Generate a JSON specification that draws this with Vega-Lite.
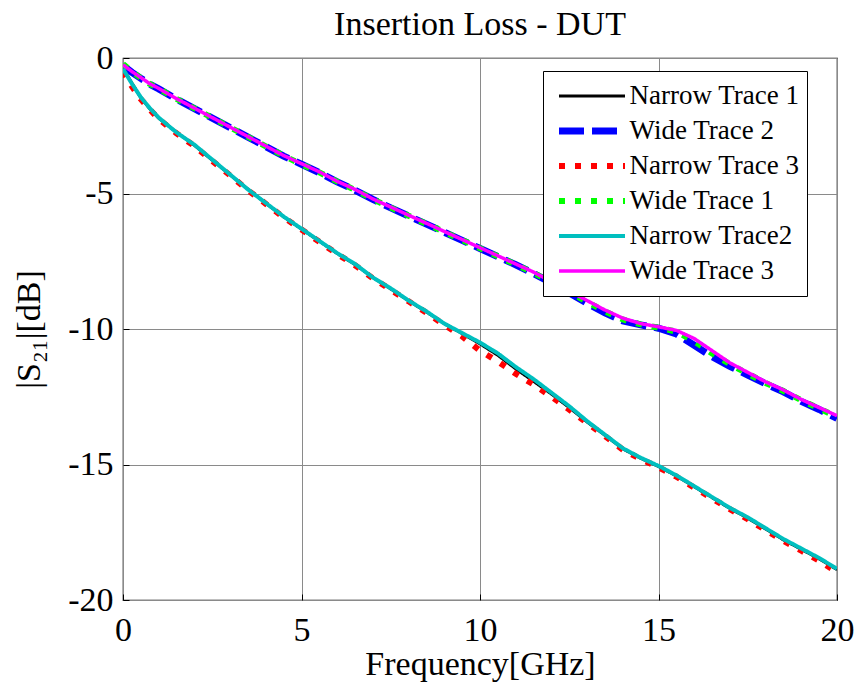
{
  "$schema": "https://vega.github.io/schema/vega-lite/v6.json",
  "width": 714,
  "height": 542,
  "autosize": {"type": "none"},
  "padding": {"left": 123, "top": 58, "right": 21, "bottom": 87},
  "title": {"text": "Insertion Loss - DUT", "fontSize": 34, "font": "Liberation Serif", "fontWeight": "normal", "color": "black", "offset": -1},
  "data": {"values": [
    {"s":"Narrow Trace 1","f":0,"v":-0.38},{"s":"Narrow Trace 1","f":0.25,"v":-0.93},{"s":"Narrow Trace 1","f":0.5,"v":-1.47},{"s":"Narrow Trace 1","f":0.75,"v":-1.87},{"s":"Narrow Trace 1","f":1,"v":-2.22},{"s":"Narrow Trace 1","f":1.5,"v":-2.74},{"s":"Narrow Trace 1","f":2,"v":-3.22},{"s":"Narrow Trace 1","f":2.5,"v":-3.77},{"s":"Narrow Trace 1","f":3,"v":-4.31},{"s":"Narrow Trace 1","f":3.5,"v":-4.84},{"s":"Narrow Trace 1","f":4,"v":-5.36},{"s":"Narrow Trace 1","f":4.5,"v":-5.86},{"s":"Narrow Trace 1","f":5,"v":-6.31},{"s":"Narrow Trace 1","f":5.5,"v":-6.76},{"s":"Narrow Trace 1","f":6,"v":-7.21},{"s":"Narrow Trace 1","f":6.5,"v":-7.62},{"s":"Narrow Trace 1","f":7,"v":-8.1},{"s":"Narrow Trace 1","f":7.5,"v":-8.52},{"s":"Narrow Trace 1","f":8,"v":-8.96},{"s":"Narrow Trace 1","f":8.5,"v":-9.37},{"s":"Narrow Trace 1","f":9,"v":-9.8},{"s":"Narrow Trace 1","f":9.5,"v":-10.17},{"s":"Narrow Trace 1","f":10,"v":-10.55},{"s":"Narrow Trace 1","f":10.5,"v":-10.97},{"s":"Narrow Trace 1","f":11,"v":-11.47},{"s":"Narrow Trace 1","f":11.5,"v":-11.93},{"s":"Narrow Trace 1","f":12,"v":-12.4},{"s":"Narrow Trace 1","f":12.5,"v":-12.9},{"s":"Narrow Trace 1","f":13,"v":-13.43},{"s":"Narrow Trace 1","f":13.5,"v":-13.92},{"s":"Narrow Trace 1","f":14,"v":-14.42},{"s":"Narrow Trace 1","f":14.5,"v":-14.77},{"s":"Narrow Trace 1","f":15,"v":-15.07},{"s":"Narrow Trace 1","f":15.5,"v":-15.42},{"s":"Narrow Trace 1","f":16,"v":-15.82},{"s":"Narrow Trace 1","f":16.5,"v":-16.22},{"s":"Narrow Trace 1","f":17,"v":-16.62},{"s":"Narrow Trace 1","f":17.5,"v":-16.98},{"s":"Narrow Trace 1","f":18,"v":-17.38},{"s":"Narrow Trace 1","f":18.5,"v":-17.78},{"s":"Narrow Trace 1","f":19,"v":-18.13},{"s":"Narrow Trace 1","f":19.5,"v":-18.48},{"s":"Narrow Trace 1","f":20,"v":-18.88},
    {"s":"Wide Trace 2","f":0,"v":-0.28},{"s":"Wide Trace 2","f":0.25,"v":-0.53},{"s":"Wide Trace 2","f":0.5,"v":-0.75},{"s":"Wide Trace 2","f":0.75,"v":-0.97},{"s":"Wide Trace 2","f":1,"v":-1.14},{"s":"Wide Trace 2","f":1.5,"v":-1.52},{"s":"Wide Trace 2","f":2,"v":-1.87},{"s":"Wide Trace 2","f":2.5,"v":-2.22},{"s":"Wide Trace 2","f":3,"v":-2.57},{"s":"Wide Trace 2","f":3.5,"v":-2.92},{"s":"Wide Trace 2","f":4,"v":-3.27},{"s":"Wide Trace 2","f":4.5,"v":-3.62},{"s":"Wide Trace 2","f":5,"v":-3.92},{"s":"Wide Trace 2","f":5.5,"v":-4.23},{"s":"Wide Trace 2","f":6,"v":-4.57},{"s":"Wide Trace 2","f":6.5,"v":-4.88},{"s":"Wide Trace 2","f":7,"v":-5.22},{"s":"Wide Trace 2","f":7.5,"v":-5.53},{"s":"Wide Trace 2","f":8,"v":-5.83},{"s":"Wide Trace 2","f":8.5,"v":-6.13},{"s":"Wide Trace 2","f":9,"v":-6.43},{"s":"Wide Trace 2","f":9.5,"v":-6.73},{"s":"Wide Trace 2","f":10,"v":-7.03},{"s":"Wide Trace 2","f":10.5,"v":-7.33},{"s":"Wide Trace 2","f":11,"v":-7.63},{"s":"Wide Trace 2","f":11.5,"v":-7.95},{"s":"Wide Trace 2","f":12,"v":-8.3},{"s":"Wide Trace 2","f":12.5,"v":-8.67},{"s":"Wide Trace 2","f":13,"v":-9.05},{"s":"Wide Trace 2","f":13.5,"v":-9.4},{"s":"Wide Trace 2","f":14,"v":-9.7},{"s":"Wide Trace 2","f":14.5,"v":-9.85},{"s":"Wide Trace 2","f":15,"v":-9.97},{"s":"Wide Trace 2","f":15.5,"v":-10.18},{"s":"Wide Trace 2","f":16,"v":-10.6},{"s":"Wide Trace 2","f":16.5,"v":-11.02},{"s":"Wide Trace 2","f":17,"v":-11.38},{"s":"Wide Trace 2","f":17.5,"v":-11.7},{"s":"Wide Trace 2","f":18,"v":-12.02},{"s":"Wide Trace 2","f":18.5,"v":-12.32},{"s":"Wide Trace 2","f":19,"v":-12.67},{"s":"Wide Trace 2","f":19.5,"v":-12.97},{"s":"Wide Trace 2","f":20,"v":-13.3},
    {"s":"Narrow Trace 3","f":0,"v":-0.5},{"s":"Narrow Trace 3","f":0.25,"v":-1.05},{"s":"Narrow Trace 3","f":0.5,"v":-1.52},{"s":"Narrow Trace 3","f":0.75,"v":-1.9},{"s":"Narrow Trace 3","f":1,"v":-2.25},{"s":"Narrow Trace 3","f":1.5,"v":-2.78},{"s":"Narrow Trace 3","f":2,"v":-3.25},{"s":"Narrow Trace 3","f":2.5,"v":-3.8},{"s":"Narrow Trace 3","f":3,"v":-4.33},{"s":"Narrow Trace 3","f":3.5,"v":-4.88},{"s":"Narrow Trace 3","f":4,"v":-5.38},{"s":"Narrow Trace 3","f":4.5,"v":-5.88},{"s":"Narrow Trace 3","f":5,"v":-6.33},{"s":"Narrow Trace 3","f":5.5,"v":-6.78},{"s":"Narrow Trace 3","f":6,"v":-7.23},{"s":"Narrow Trace 3","f":6.5,"v":-7.65},{"s":"Narrow Trace 3","f":7,"v":-8.13},{"s":"Narrow Trace 3","f":7.5,"v":-8.55},{"s":"Narrow Trace 3","f":8,"v":-8.98},{"s":"Narrow Trace 3","f":8.5,"v":-9.4},{"s":"Narrow Trace 3","f":9,"v":-9.85},{"s":"Narrow Trace 3","f":9.5,"v":-10.27},{"s":"Narrow Trace 3","f":10,"v":-10.8},{"s":"Narrow Trace 3","f":10.5,"v":-11.2},{"s":"Narrow Trace 3","f":11,"v":-11.65},{"s":"Narrow Trace 3","f":11.5,"v":-12.05},{"s":"Narrow Trace 3","f":12,"v":-12.5},{"s":"Narrow Trace 3","f":12.5,"v":-12.97},{"s":"Narrow Trace 3","f":13,"v":-13.47},{"s":"Narrow Trace 3","f":13.5,"v":-13.95},{"s":"Narrow Trace 3","f":14,"v":-14.45},{"s":"Narrow Trace 3","f":14.5,"v":-14.8},{"s":"Narrow Trace 3","f":15,"v":-15.1},{"s":"Narrow Trace 3","f":15.5,"v":-15.45},{"s":"Narrow Trace 3","f":16,"v":-15.85},{"s":"Narrow Trace 3","f":16.5,"v":-16.25},{"s":"Narrow Trace 3","f":17,"v":-16.65},{"s":"Narrow Trace 3","f":17.5,"v":-17.02},{"s":"Narrow Trace 3","f":18,"v":-17.42},{"s":"Narrow Trace 3","f":18.5,"v":-17.82},{"s":"Narrow Trace 3","f":19,"v":-18.18},{"s":"Narrow Trace 3","f":19.5,"v":-18.55},{"s":"Narrow Trace 3","f":20,"v":-18.97},
    {"s":"Wide Trace 1","f":0,"v":-0.22},{"s":"Wide Trace 1","f":0.25,"v":-0.5},{"s":"Wide Trace 1","f":0.5,"v":-0.74},{"s":"Wide Trace 1","f":0.75,"v":-0.96},{"s":"Wide Trace 1","f":1,"v":-1.13},{"s":"Wide Trace 1","f":1.5,"v":-1.51},{"s":"Wide Trace 1","f":2,"v":-1.86},{"s":"Wide Trace 1","f":2.5,"v":-2.21},{"s":"Wide Trace 1","f":3,"v":-2.56},{"s":"Wide Trace 1","f":3.5,"v":-2.91},{"s":"Wide Trace 1","f":4,"v":-3.26},{"s":"Wide Trace 1","f":4.5,"v":-3.61},{"s":"Wide Trace 1","f":5,"v":-3.92},{"s":"Wide Trace 1","f":5.5,"v":-4.22},{"s":"Wide Trace 1","f":6,"v":-4.56},{"s":"Wide Trace 1","f":6.5,"v":-4.87},{"s":"Wide Trace 1","f":7,"v":-5.21},{"s":"Wide Trace 1","f":7.5,"v":-5.52},{"s":"Wide Trace 1","f":8,"v":-5.82},{"s":"Wide Trace 1","f":8.5,"v":-6.12},{"s":"Wide Trace 1","f":9,"v":-6.42},{"s":"Wide Trace 1","f":9.5,"v":-6.72},{"s":"Wide Trace 1","f":10,"v":-7.02},{"s":"Wide Trace 1","f":10.5,"v":-7.32},{"s":"Wide Trace 1","f":11,"v":-7.62},{"s":"Wide Trace 1","f":11.5,"v":-7.93},{"s":"Wide Trace 1","f":12,"v":-8.28},{"s":"Wide Trace 1","f":12.5,"v":-8.63},{"s":"Wide Trace 1","f":13,"v":-9.0},{"s":"Wide Trace 1","f":13.5,"v":-9.35},{"s":"Wide Trace 1","f":14,"v":-9.65},{"s":"Wide Trace 1","f":14.5,"v":-9.83},{"s":"Wide Trace 1","f":15,"v":-9.95},{"s":"Wide Trace 1","f":15.5,"v":-10.1},{"s":"Wide Trace 1","f":16,"v":-10.45},{"s":"Wide Trace 1","f":16.5,"v":-10.9},{"s":"Wide Trace 1","f":17,"v":-11.3},{"s":"Wide Trace 1","f":17.5,"v":-11.65},{"s":"Wide Trace 1","f":18,"v":-11.99},{"s":"Wide Trace 1","f":18.5,"v":-12.29},{"s":"Wide Trace 1","f":19,"v":-12.63},{"s":"Wide Trace 1","f":19.5,"v":-12.93},{"s":"Wide Trace 1","f":20,"v":-13.25},
    {"s":"Narrow Trace2","f":0,"v":-0.4},{"s":"Narrow Trace2","f":0.25,"v":-0.95},{"s":"Narrow Trace2","f":0.5,"v":-1.45},{"s":"Narrow Trace2","f":0.75,"v":-1.85},{"s":"Narrow Trace2","f":1,"v":-2.2},{"s":"Narrow Trace2","f":1.5,"v":-2.75},{"s":"Narrow Trace2","f":2,"v":-3.2},{"s":"Narrow Trace2","f":2.5,"v":-3.75},{"s":"Narrow Trace2","f":3,"v":-4.3},{"s":"Narrow Trace2","f":3.5,"v":-4.85},{"s":"Narrow Trace2","f":4,"v":-5.35},{"s":"Narrow Trace2","f":4.5,"v":-5.85},{"s":"Narrow Trace2","f":5,"v":-6.3},{"s":"Narrow Trace2","f":5.5,"v":-6.75},{"s":"Narrow Trace2","f":6,"v":-7.2},{"s":"Narrow Trace2","f":6.5,"v":-7.6},{"s":"Narrow Trace2","f":7,"v":-8.1},{"s":"Narrow Trace2","f":7.5,"v":-8.5},{"s":"Narrow Trace2","f":8,"v":-8.95},{"s":"Narrow Trace2","f":8.5,"v":-9.35},{"s":"Narrow Trace2","f":9,"v":-9.8},{"s":"Narrow Trace2","f":9.5,"v":-10.15},{"s":"Narrow Trace2","f":10,"v":-10.5},{"s":"Narrow Trace2","f":10.5,"v":-10.9},{"s":"Narrow Trace2","f":11,"v":-11.4},{"s":"Narrow Trace2","f":11.5,"v":-11.85},{"s":"Narrow Trace2","f":12,"v":-12.35},{"s":"Narrow Trace2","f":12.5,"v":-12.85},{"s":"Narrow Trace2","f":13,"v":-13.4},{"s":"Narrow Trace2","f":13.5,"v":-13.9},{"s":"Narrow Trace2","f":14,"v":-14.4},{"s":"Narrow Trace2","f":14.5,"v":-14.75},{"s":"Narrow Trace2","f":15,"v":-15.05},{"s":"Narrow Trace2","f":15.5,"v":-15.4},{"s":"Narrow Trace2","f":16,"v":-15.8},{"s":"Narrow Trace2","f":16.5,"v":-16.2},{"s":"Narrow Trace2","f":17,"v":-16.6},{"s":"Narrow Trace2","f":17.5,"v":-16.95},{"s":"Narrow Trace2","f":18,"v":-17.35},{"s":"Narrow Trace2","f":18.5,"v":-17.75},{"s":"Narrow Trace2","f":19,"v":-18.1},{"s":"Narrow Trace2","f":19.5,"v":-18.45},{"s":"Narrow Trace2","f":20,"v":-18.85},
    {"s":"Wide Trace 3","f":0,"v":-0.25},{"s":"Wide Trace 3","f":0.25,"v":-0.5},{"s":"Wide Trace 3","f":0.5,"v":-0.72},{"s":"Wide Trace 3","f":0.75,"v":-0.95},{"s":"Wide Trace 3","f":1,"v":-1.12},{"s":"Wide Trace 3","f":1.5,"v":-1.5},{"s":"Wide Trace 3","f":2,"v":-1.85},{"s":"Wide Trace 3","f":2.5,"v":-2.2},{"s":"Wide Trace 3","f":3,"v":-2.55},{"s":"Wide Trace 3","f":3.5,"v":-2.9},{"s":"Wide Trace 3","f":4,"v":-3.25},{"s":"Wide Trace 3","f":4.5,"v":-3.6},{"s":"Wide Trace 3","f":5,"v":-3.9},{"s":"Wide Trace 3","f":5.5,"v":-4.2},{"s":"Wide Trace 3","f":6,"v":-4.55},{"s":"Wide Trace 3","f":6.5,"v":-4.85},{"s":"Wide Trace 3","f":7,"v":-5.2},{"s":"Wide Trace 3","f":7.5,"v":-5.5},{"s":"Wide Trace 3","f":8,"v":-5.8},{"s":"Wide Trace 3","f":8.5,"v":-6.1},{"s":"Wide Trace 3","f":9,"v":-6.4},{"s":"Wide Trace 3","f":9.5,"v":-6.7},{"s":"Wide Trace 3","f":10,"v":-7.0},{"s":"Wide Trace 3","f":10.5,"v":-7.3},{"s":"Wide Trace 3","f":11,"v":-7.6},{"s":"Wide Trace 3","f":11.5,"v":-7.9},{"s":"Wide Trace 3","f":12,"v":-8.25},{"s":"Wide Trace 3","f":12.5,"v":-8.6},{"s":"Wide Trace 3","f":13,"v":-8.95},{"s":"Wide Trace 3","f":13.5,"v":-9.3},{"s":"Wide Trace 3","f":14,"v":-9.6},{"s":"Wide Trace 3","f":14.5,"v":-9.8},{"s":"Wide Trace 3","f":15,"v":-9.92},{"s":"Wide Trace 3","f":15.5,"v":-10.05},{"s":"Wide Trace 3","f":16,"v":-10.35},{"s":"Wide Trace 3","f":16.5,"v":-10.8},{"s":"Wide Trace 3","f":17,"v":-11.25},{"s":"Wide Trace 3","f":17.5,"v":-11.6},{"s":"Wide Trace 3","f":18,"v":-11.95},{"s":"Wide Trace 3","f":18.5,"v":-12.25},{"s":"Wide Trace 3","f":19,"v":-12.6},{"s":"Wide Trace 3","f":19.5,"v":-12.9},{"s":"Wide Trace 3","f":20,"v":-13.2}
  ]},
  "mark": {"type": "line", "strokeCap": "butt", "clip": true},
  "encoding": {
    "x": {"field": "f", "type": "quantitative", "scale": {"domain": [0, 20], "nice": false, "zero": false}, "axis": {"title": "Frequency[GHz]", "values": [0, 5, 10, 15, 20]}},
    "y": {"field": "v", "type": "quantitative", "scale": {"domain": [-20, 0], "nice": false}, "axis": {"title": "|S₂₁|[dB]", "values": [-20, -15, -10, -5, 0], "labelExpr": "'' + datum.value"}},
    "color": {"field": "s", "type": "nominal", "scale": {"domain": ["Narrow Trace 1", "Wide Trace 2", "Narrow Trace 3", "Wide Trace 1", "Narrow Trace2", "Wide Trace 3"], "range": ["#000000", "#0000ff", "#ff0000", "#00ff00", "#00bfbf", "#ff00ff"]}, "legend": {"title": null, "labelExpr": "datum.label + '\u2002\u2005'"}},
    "strokeDash": {"field": "s", "type": "nominal", "scale": {"domain": ["Narrow Trace 1", "Wide Trace 2", "Narrow Trace 3", "Wide Trace 1", "Narrow Trace2", "Wide Trace 3"], "range": [[1, 0], [25, 8], [6, 10], [6, 10], [1, 0], [1, 0]]}, "legend": {"title": null, "labelExpr": "datum.label + '\u2002\u2005'"}},
    "strokeWidth": {"field": "s", "type": "nominal", "scale": {"type": "ordinal", "domain": ["Narrow Trace 1", "Wide Trace 2", "Narrow Trace 3", "Wide Trace 1", "Narrow Trace2", "Wide Trace 3"], "range": [3, 7, 6, 6, 4, 3.5]}, "legend": {"title": null, "labelExpr": "datum.label + '\u2002\u2005'"}}
  },
  "config": {
    "font": "Liberation Serif",
    "view": {"stroke": "black", "strokeWidth": 1.2},
    "axis": {"labelFont": "Liberation Serif", "labelFontSize": 34, "labelColor": "black", "titleFont": "Liberation Serif", "titleFontSize": 34, "titleFontWeight": "normal", "titleColor": "black", "grid": true, "gridColor": "#8a8a8a", "gridWidth": 1, "domain": false, "tickColor": "black", "tickSize": -6, "labelFlush": false, "labelOverlap": false},
    "axisX": {"labelPadding": 19, "titlePadding": 0},
    "axisY": {"labelPadding": 16, "titlePadding": 21},
    "legend": {"orient": "none", "legendX": 420, "legendY": 13, "strokeColor": "black", "fillColor": "white", "padding": 7.5, "labelFont": "Liberation Serif", "labelFontSize": 27, "labelColor": "black", "symbolType": "stroke", "symbolSize": 4356, "clipHeight": 35, "rowPadding": 0, "symbolOffset": 5, "labelOffset": 1, "labelLimit": 300}
  }
}
